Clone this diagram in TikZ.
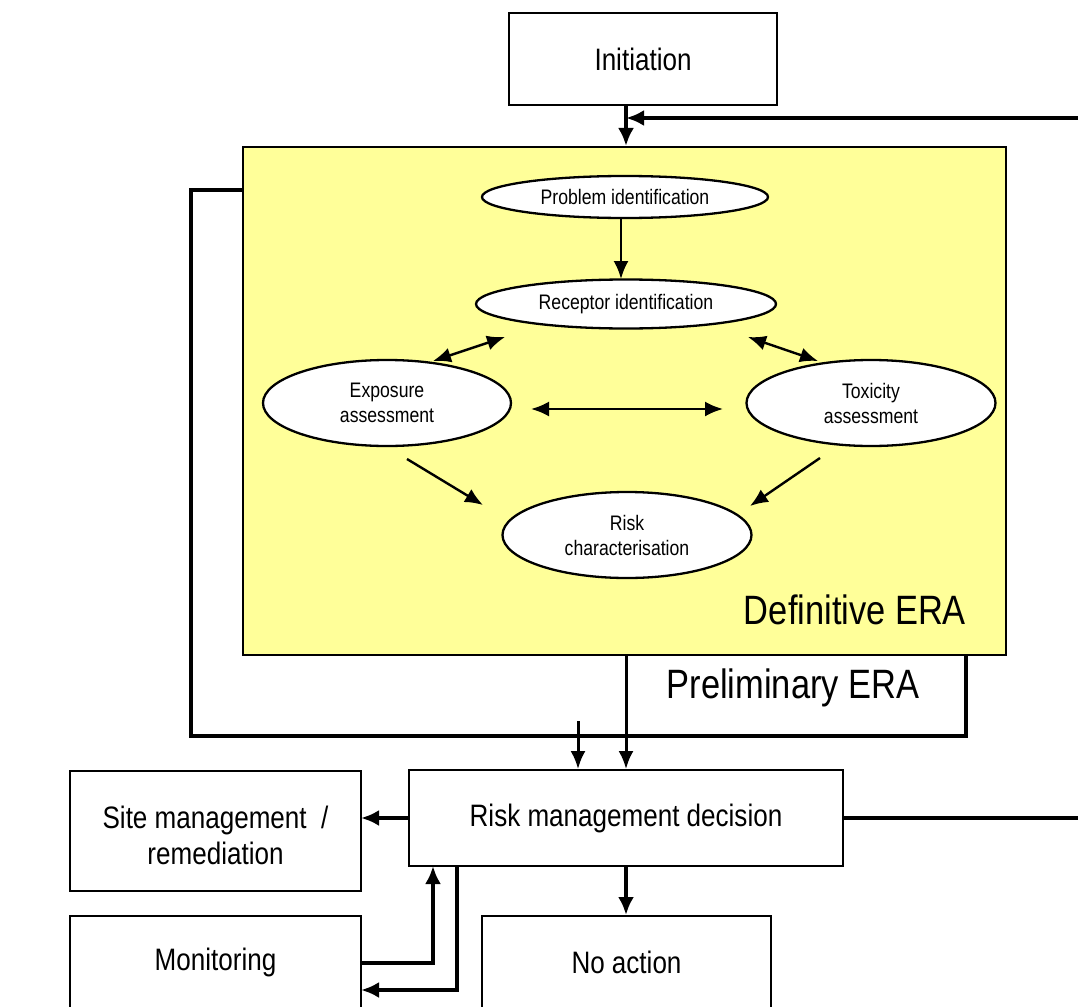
\documentclass[tikz,border=0pt]{standalone}
\usepackage{fontspec}
\setmainfont[FakeStretch=0.84]{Liberation Sans}
\usetikzlibrary{shapes.geometric,arrows.meta}
\definecolor{eraYellow}{HTML}{FFFF99}
\begin{document}
\begin{tikzpicture}[x=1pt,y=-1pt,
  boxnode/.style={draw=black,line width=1.8pt,fill=white,inner sep=0pt,font=\fontsize{31}{36}\selectfont,align=center},
  ellnode/.style={ellipse,draw=black,line width=2.3pt,fill=white,inner sep=0pt,font=\fontsize{21}{25}\selectfont,align=center},
  thick conn/.style={line width=4.5pt,-{Latex[length=18pt,width=16pt]}},
  thickline/.style={line width=4.5pt},
  thin conn/.style={line width=2.4pt,-{Latex[length=18pt,width=15pt]}},
  thin both/.style={line width=2.4pt,{Latex[length=18pt,width=15pt]}-{Latex[length=18pt,width=15pt]}},
  mid conn/.style={line width=3pt,-{Latex[length=18pt,width=15pt]}}
]
\useasboundingbox (0,0) rectangle (1078,1006);
\clip (0,0) rectangle (1078,1006);

% yellow Definitive ERA area
\fill[gray!70] (244,148) rectangle (1007,656);
\node[draw=black,line width=1.6pt,fill=eraYellow,minimum width=763pt,minimum height=508pt,inner sep=0pt,anchor=north west] (era) at (242,146) {};
\node[font=\fontsize{41}{44}\selectfont,inner sep=0pt] (deflabel) at (855,610) {Definitive ERA};
\node[font=\fontsize{41}{44}\selectfont,inner sep=0pt] (prelabel) at (793,688) {Preliminary ERA};

% boxes
\node[boxnode,minimum width=268pt,minimum height=92pt] (init) at (643,59) {Initiation};
\node[boxnode,minimum width=434pt,minimum height=96pt] (rmd) at (626,818) {Risk management decision};
\node[boxnode,minimum width=291pt,minimum height=120pt] (site) at (215.5,831) {};
\node[font=\fontsize{31}{36}\selectfont,inner sep=0pt,align=center] (sitetext) at (215.5,835) {Site management~~/\\remediation};
\node[boxnode,minimum width=291pt,minimum height=120pt,anchor=north] (mon) at (215.5,915) {};
\node[font=\fontsize{31}{34}\selectfont,inner sep=0pt] (montext) at (215.5,962) {Monitoring};
\node[boxnode,minimum width=289pt,minimum height=120pt,anchor=north] (noact) at (626.5,915) {};
\node[font=\fontsize{31}{34}\selectfont,inner sep=0pt] (noacttext) at (626.5,962) {No action};

% ellipses
\node[ellnode,minimum width=286pt,minimum height=42pt] (prob) at (625,197) {Problem identification};
\node[ellnode,minimum width=300pt,minimum height=49pt] (rec) at (626,304) {Receptor identification};
\node[ellnode,minimum width=248pt,minimum height=86pt] (exp) at (387,403) {Exposure\\assessment};
\node[ellnode,minimum width=249pt,minimum height=86pt] (tox) at (871,403) {Toxicity\\assessment};
\node[ellnode,minimum width=249pt,minimum height=86pt] (risk) at (627,535) {Risk\\characterisation};

% connectors inside ERA
\draw[thin conn] (prob.south -| 621,0) -- (621,279);
\coordinate (e1) at (433,361); \coordinate (e2) at (505,337);
\draw[thin both] (e1) -- (e2);
\coordinate (t1) at (748,337); \coordinate (t2) at (818,361);
\draw[thin both] (t1) -- (t2);
\coordinate (h1) at (531,409); \coordinate (h2) at (723,409);
\draw[thin both] (h1) -- (h2);
\coordinate (er1) at (407,459); \coordinate (er2) at (483,505);
\draw[thin conn] (er1) -- (er2);
\coordinate (tr1) at (820,458); \coordinate (tr2) at (750,506);
\draw[thin conn] (tr1) -- (tr2);

% initiation -> ERA, feedback from right
\coordinate (ia) at (626,105);
\coordinate (ib) at (626,146);
\draw[thick conn] (ia) -- (ib);
\coordinate (rin) at (1080,118);
\coordinate (rj) at (626,118);
\draw[thick conn] (rin) -- (rj);

% Preliminary ERA frame
\coordinate (fl) at (242,190);
\draw[thickline] (fl) -- (191,190) -- (191,736) -- (966,736) -- (966,655);

% arrows into risk management decision
\coordinate (pa) at (578,721);
\draw[mid conn] (pa) -- (pa |- rmd.north);
\coordinate (pb) at (626,654);
\draw[mid conn] (pb) -- (pb |- rmd.north);

% risk management decision outputs
\coordinate (sa) at (409,818);
\coordinate (sb) at (361,818);
\draw[thick conn] (sa) -- (sb);
\coordinate (rout) at (1080,818);
\draw[thickline] (rmd.east) -- (rout);
\coordinate (na) at (626,866);
\draw[thick conn] (na) -- (na |- noact.north);
\coordinate (ma) at (361,963);
\draw[thick conn] (ma) -- (433,963) -- (433,866);
\coordinate (mb) at (361,990);
\draw[thick conn] (457,866) -- (457,990) -- (mb);
\end{tikzpicture}
\end{document}
